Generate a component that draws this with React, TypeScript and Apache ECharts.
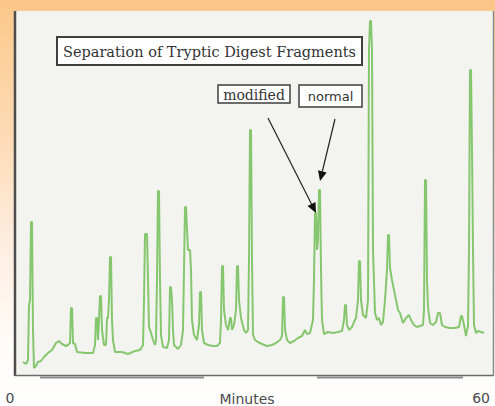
import React, { useEffect, useRef } from "react";
import * as echarts from "echarts";

// Retention time (minutes) and detector signal (arbitrary units)
const retentionTime: number[] = [
  1.625, 2.0, 2.25, 2.375, 2.5, 2.625, 2.75, 2.875, 3.0, 3.25, 3.5, 3.875, 4.25, 4.75, 5.25, 5.75,
  6.125, 6.5, 7.0, 7.25, 7.5, 7.625, 7.75, 7.875, 8.125, 8.375, 9.375, 10.375, 10.625, 10.75, 10.875,
  11.0, 11.125, 11.25, 11.375, 11.5, 11.75, 12.0, 12.125, 12.25, 12.375, 12.5, 12.625, 12.75, 12.875,
  13.125, 14.0, 14.75, 15.625, 16.25, 16.625, 16.75, 16.875, 17.125, 17.25, 17.375, 17.625, 17.875,
  18.125, 18.25, 18.375, 18.5, 18.625, 18.75, 18.875, 19.125, 19.625, 19.875, 20.0, 20.125, 20.25,
  20.375, 20.5, 21.0, 21.375, 21.625, 21.75, 21.875, 22.0, 22.125, 22.25, 22.5, 22.625, 22.75, 23.0,
  23.375, 23.625, 23.75, 23.875, 24.0, 24.25, 24.75, 25.375, 25.875, 26.25, 26.375, 26.5, 26.625,
  26.75, 27.0, 27.25, 27.5, 27.625, 27.75, 28.0, 28.25, 28.375, 28.5, 28.625, 28.875, 29.25, 29.5,
  29.75, 29.875, 30.0, 30.125, 30.25, 30.375, 30.625, 31.0, 31.5, 32.125, 32.75, 33.25, 33.75, 34.0,
  34.125, 34.25, 34.375, 34.625, 35.0, 35.5, 36.0, 36.5, 36.875, 37.125, 37.5, 37.875, 38.0, 38.125,
  38.25, 38.375, 38.5, 38.625, 38.75, 38.875, 39.0, 39.25, 39.75, 40.375, 41.0, 41.5, 41.75, 41.875,
  42.0, 42.125, 42.375, 42.75, 43.0, 43.25, 43.5, 43.625, 43.75, 43.875, 44.125, 44.5, 44.75, 44.875,
  45.0, 45.125, 45.25, 45.375, 45.625, 45.875, 46.125, 46.375, 46.625, 46.875, 47.125, 47.25, 47.375,
  47.5, 47.75, 48.0, 48.25, 48.5, 48.75, 49.125, 49.5, 49.875, 50.125, 50.5, 50.875, 51.25, 51.625,
  51.75, 51.875, 52.0, 52.125, 52.25, 52.5, 52.875, 53.25, 53.5, 53.75, 54.0, 54.375, 55.0, 55.625,
  56.125, 56.375, 56.5, 56.75, 57.0, 57.125, 57.25, 57.375, 57.5, 57.625, 57.75, 57.875, 58.0, 58.25,
  58.5, 58.875, 59.25,
];

const signal: number[] = [
  13, 11, 15, 70, 75, 153, 153, 45, 7, 9, 13, 14, 18, 22, 25, 32,
  34, 31, 29, 30, 32, 67, 67, 32, 31, 23, 22, 22, 30, 57, 57,
  35, 55, 79, 79, 45, 30, 30, 57, 57, 75, 118, 118, 55, 35,
  23, 23, 21, 24, 25, 30, 75, 141, 141, 95, 48, 42, 35,
  30, 35, 97, 184, 184, 95, 40, 28, 27, 35, 88, 88, 75,
  45, 30, 26, 30, 45, 105, 168, 168, 145, 125, 125, 105, 55, 40,
  35, 50, 83, 83, 45, 32, 30, 29, 29, 32, 55, 109, 109,
  65, 50, 45, 57, 57, 45, 50, 65, 109, 109, 75, 57, 45, 42,
  45, 115, 245, 245, 115, 40, 35, 33, 31, 29, 30, 32, 35, 39,
  78, 78, 45, 35, 32, 34, 37, 39, 45, 41, 42, 55, 95, 162,
  162, 125, 135, 185, 185, 105, 55, 41, 43, 42, 43, 44, 55, 70,
  70, 50, 45, 48, 53, 57, 75, 114, 114, 75, 60, 57, 75, 325,
  354, 354, 325, 125, 62, 55, 57, 50, 53, 75, 105, 140, 140,
  107, 95, 85, 75, 65, 62, 52, 57, 60, 55, 50, 48, 49, 50,
  65, 195, 195, 95, 68, 52, 50, 53, 62, 62, 50, 48, 47, 47,
  48, 59, 59, 50, 39, 45, 48, 125, 305, 305, 225, 125, 50, 42,
  44, 43, 42,
];

const xAxisRange: number[] = [0, 60];
const xAxisName = "Minutes";
const chartTitle = "Separation of Tryptic Digest Fragments";
const peakLabels: string[] = ["modified", "normal"];

export default function App() {
  const ref = useRef<HTMLDivElement>(null);

  useEffect(() => {
    if (!ref.current) return;
    const chart = echarts.init(ref.current, null, { renderer: "svg" });
    const data = retentionTime.map((t, i) => [t, signal[i]]);

    const frameColor = "#4d4d4d";
    const labelFont = { color: "#4a4a4a", fontSize: 14, fontFamily: "DejaVu Sans" };
    const option: any = {
      animation: false,
      backgroundColor: "transparent",
      grid: {
        left: 10,
        right: 5,
        top: 10,
        bottom: 31,
        containLabel: false,
        outerBoundsMode: "none",
      },
      xAxis: {
        type: "value",
        min: xAxisRange[0],
        max: xAxisRange[1],
        interval: 60,
        axisLine: { show: false },
        axisTick: { show: false },
        splitLine: { show: false },
        axisLabel: {
          show: true,
          ...labelFont,
          margin: 16,
          showMinLabel: true,
          showMaxLabel: true,
          alignMaxLabel: "right",
        },
      },
      yAxis: { type: "value", min: 0, max: 365, show: false },
      series: [
        {
          type: "line",
          data,
          showSymbol: false,
          symbol: "none",
          z: 5,
          lineStyle: { color: "#86c66f", width: 2 },
          emphasis: { disabled: true },
        },
      ],
      graphic: [
        {
          type: "rect",
          z: 0,
          shape: { x: 15, y: 11, width: 478, height: 364 },
          style: { fill: "#f3f4ef" },
        },
        {
          type: "line",
          z: 1,
          shape: { x1: 15, y1: 11, x2: 15, y2: 376 },
          style: { stroke: frameColor, lineWidth: 2.5 },
        },
        {
          type: "line",
          z: 1,
          shape: { x1: 15, y1: 375.5, x2: 493, y2: 375.5 },
          style: { stroke: "#6a6a6a", lineWidth: 1.5 },
        },
        {
          type: "line",
          z: 1,
          shape: { x1: 493.5, y1: 11, x2: 493.5, y2: 376 },
          style: { stroke: "#8a8a8a", lineWidth: 1.5 },
        },
        {
          type: "line",
          z: 1,
          shape: { x1: 40, y1: 377.5, x2: 204, y2: 377.5 },
          style: { stroke: "#8c8c8c", lineWidth: 2 },
        },
        {
          type: "line",
          z: 1,
          shape: { x1: 317, y1: 377.5, x2: 463, y2: 377.5 },
          style: { stroke: "#8c8c8c", lineWidth: 2 },
        },
        // x-axis title
        {
          type: "text",
          z: 21,
          x: 247,
          y: 399,
          style: {
            text: xAxisName,
            fill: "#4a4a4a",
            font: "14px 'DejaVu Sans'",
            align: "center",
            verticalAlign: "middle",
          },
        },
        // title box
        {
          type: "rect",
          z: 20,
          shape: { x: 57, y: 37, width: 305, height: 28 },
          style: { fill: "#ffffff", stroke: "#3f3f3f", lineWidth: 2 },
        },
        {
          type: "text",
          z: 21,
          x: 209.5,
          y: 51.5,
          style: {
            text: chartTitle,
            fill: "#333",
            font: "14.5px 'DejaVu Serif'",
            align: "center",
            verticalAlign: "middle",
          },
        },
        // modified label
        {
          type: "rect",
          z: 20,
          shape: { x: 218, y: 85, width: 72, height: 18 },
          style: { fill: "#ffffff", stroke: "#3f3f3f", lineWidth: 1.5 },
        },
        {
          type: "text",
          z: 21,
          x: 254,
          y: 94.5,
          style: {
            text: peakLabels[0],
            fill: "#333",
            font: "14px 'DejaVu Serif'",
            align: "center",
            verticalAlign: "middle",
          },
        },
        // normal label
        {
          type: "rect",
          z: 20,
          shape: { x: 299, y: 85, width: 63, height: 22 },
          style: { fill: "#ffffff", stroke: "#3f3f3f", lineWidth: 1.5 },
        },
        {
          type: "text",
          z: 21,
          x: 330.5,
          y: 96.5,
          style: {
            text: peakLabels[1],
            fill: "#333",
            font: "13px 'DejaVu Sans'",
            align: "center",
            verticalAlign: "middle",
          },
        },
        // arrows
        {
          type: "line",
          z: 20,
          shape: { x1: 268, y1: 118, x2: 311.5, y2: 204 },
          style: { stroke: "#222", lineWidth: 1.2 },
        },
        {
          type: "polygon",
          z: 20,
          shape: { points: [[316, 213], [307.5, 206.1], [315.5, 202]] },
          style: { fill: "#111" },
        },
        {
          type: "line",
          z: 20,
          shape: { x1: 335, y1: 119, x2: 322.3, y2: 171.5 },
          style: { stroke: "#222", lineWidth: 1.2 },
        },
        {
          type: "polygon",
          z: 20,
          shape: { points: [[320, 181], [318, 170.2], [326.7, 172.4]] },
          style: { fill: "#111" },
        },
      ],
    };
    chart.setOption(option);
    return () => chart.dispose();
  }, []);

  return (
    <div
      style={{
        position: "fixed",
        left: 0,
        top: 0,
        width: 495,
        height: 406,
        background:
          "linear-gradient(to bottom, #fbc585 0%, #fcca8f 4%, #fddcb7 35%, #feede0 60%, #fffaf6 82%, #ffffff 100%)",
      }}
    >
      <div ref={ref} style={{ width: 495, height: 406 }} />
    </div>
  );
}
